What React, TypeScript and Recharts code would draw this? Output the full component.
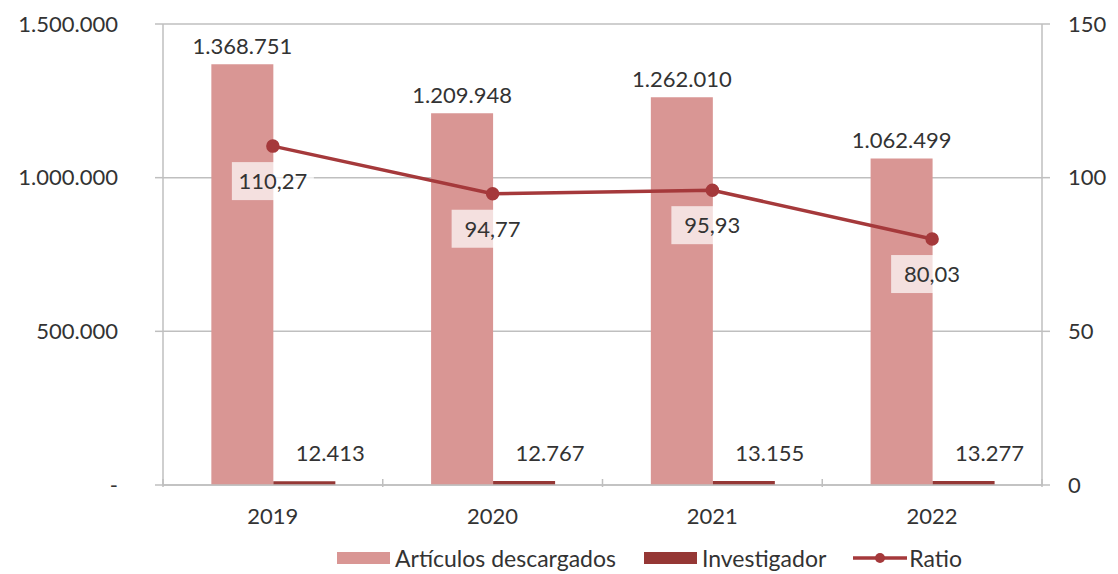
import React from 'react';
import { ComposedChart, Bar, Line, XAxis, YAxis, CartesianGrid, Legend, LabelList } from 'recharts';

const YEARS = ['2019', '2020', '2021', '2022'];
const ARTICULOS = [1368751, 1209948, 1262010, 1062499];
const INVESTIGADOR = [12413, 12767, 13155, 13277];
const RATIO = [110.27, 94.77, 95.93, 80.03];
const LEFT_TICKS = [0, 500000, 1000000, 1500000];
const RIGHT_TICKS = [0, 50, 100, 150];

const data = YEARS.map((year, i) => ({
  year,
  articulos: ARTICULOS[i],
  investigador: INVESTIGADOR[i],
  ratio: RATIO[i],
}));

const FONT = 'Lato, "Open Sans", sans-serif';
const FS = 22;
const TEXT = '#333333';
const PINK = '#D99694';
const DARK = '#953735';
const LINE = '#A5393B';
const GRID = '#BFBFBF';

const thousands = (v: number) => String(v).replace(/\B(?=(\d{3})+(?!\d))/g, '.');
const comma = (v: number) => v.toFixed(2).replace('.', ',');

const YearTick = (props: any) => {
  const { x, y, payload, index, width, visibleTicksCount } = props;
  const band = width / visibleTicksCount;
  const axisY = y - 14;
  return (
    <g>
      <line x1={x - band / 2} x2={x - band / 2} y1={axisY} y2={axisY + 8} stroke={GRID} strokeWidth={1.5} />
      {index === visibleTicksCount - 1 && (
        <line x1={x + band / 2} x2={x + band / 2} y1={axisY} y2={axisY + 8} stroke={GRID} strokeWidth={1.5} />
      )}
      <text x={x} y={y + 31} textAnchor="middle" fill={TEXT} fontSize={FS} fontFamily={FONT}>
        {payload.value}
      </text>
    </g>
  );
};

const RatioLabel = (props: any) => {
  const { x, y, value } = props;
  const cy = y + 35;
  return (
    <g>
      <rect x={x - 41} y={cy - 19} width={82} height={38} fill="#ffffff" fillOpacity={0.7} />
      <text x={x} y={cy + 8} textAnchor="middle" fill={TEXT} fontSize={FS} fontFamily={FONT}>
        {comma(value)}
      </text>
    </g>
  );
};

const LegendContent = () => (
  <div style={{ display: 'flex', justifyContent: 'flex-start', alignItems: 'center', paddingLeft: 337, fontFamily: FONT, fontSize: 23, color: TEXT, height: 33 }}>
    <span style={{ display: 'inline-block', width: 53, height: 12, background: PINK, marginRight: 5 }} />
    <span style={{ marginRight: 28 }}>Artículos descargados</span>
    <span style={{ display: 'inline-block', width: 53, height: 12, background: DARK, marginRight: 5 }} />
    <span style={{ marginRight: 27 }}>Investigador</span>
    <svg width={54} height={14} style={{ marginRight: 2 }}>
      <line x1={0} x2={54} y1={7} y2={7} stroke={LINE} strokeWidth={3.5} />
      <circle cx={27} cy={7} r={5} fill={LINE} />
    </svg>
    <span>Ratio</span>
  </div>
);

export default function App() {
  return (
    <div style={{ position: 'absolute', left: 0, top: 0, background: '#fff' }}>
      <ComposedChart
        width={1118}
        height={574}
        data={data}
        margin={{ top: 24, right: 0, bottom: 0, left: 0 }}
        barGap={0}
        barCategoryGap="22%"
      >
        <CartesianGrid horizontal vertical={false} stroke={GRID} strokeWidth={1.5} yAxisId="left" />
        <XAxis
          dataKey="year"
          height={56}
          axisLine={{ stroke: GRID, strokeWidth: 1.5 }}
          tickLine={false}
          tick={<YearTick />}
          interval={0}
        />
        <YAxis
          yAxisId="left"
          width={163}
          domain={[0, 1500000]}
          ticks={LEFT_TICKS}
          interval={0}
          tickFormatter={(v: number) => (v === 0 ? '-' : thousands(v))}
          axisLine={{ stroke: GRID, strokeWidth: 1.5 }}
          tickLine={{ stroke: GRID, strokeWidth: 1.5 }}
          tickSize={8}
          tickMargin={37}
          tick={{ fill: TEXT, fontSize: FS, fontFamily: FONT }}
        />
        <YAxis
          yAxisId="right"
          orientation="right"
          width={76}
          domain={[0, 150]}
          ticks={RIGHT_TICKS}
          interval={0}
          axisLine={{ stroke: GRID, strokeWidth: 1.5 }}
          tickLine={{ stroke: GRID, strokeWidth: 1.5 }}
          tickSize={8}
          tickMargin={18}
          tick={{ fill: TEXT, fontSize: FS, fontFamily: FONT }}
        />
        <Legend verticalAlign="bottom" height={33} content={<LegendContent />} />
        <Bar yAxisId="left" dataKey="articulos" name="Artículos descargados" fill={PINK} isAnimationActive={false}>
          <LabelList
            dataKey="articulos"
            position="top"
            offset={10}
            formatter={(v: any) => thousands(v)}
            style={{ fill: TEXT, fontSize: FS, fontFamily: FONT }}
          />
        </Bar>
        <Bar yAxisId="left" dataKey="investigador" name="Investigador" fill={DARK} isAnimationActive={false}>
          <LabelList
            dataKey="investigador"
            position="top"
            offset={20}
            dx={26}
            formatter={(v: any) => thousands(v)}
            style={{ fill: TEXT, fontSize: FS, fontFamily: FONT }}
          />
        </Bar>
        <Line
          yAxisId="right"
          dataKey="ratio"
          name="Ratio"
          stroke={LINE}
          strokeWidth={3.5}
          dot={{ r: 5, fill: LINE, stroke: LINE }}
          isAnimationActive={false}
        >
          <LabelList dataKey="ratio" content={<RatioLabel />} />
        </Line>
      </ComposedChart>
    </div>
  );
}
